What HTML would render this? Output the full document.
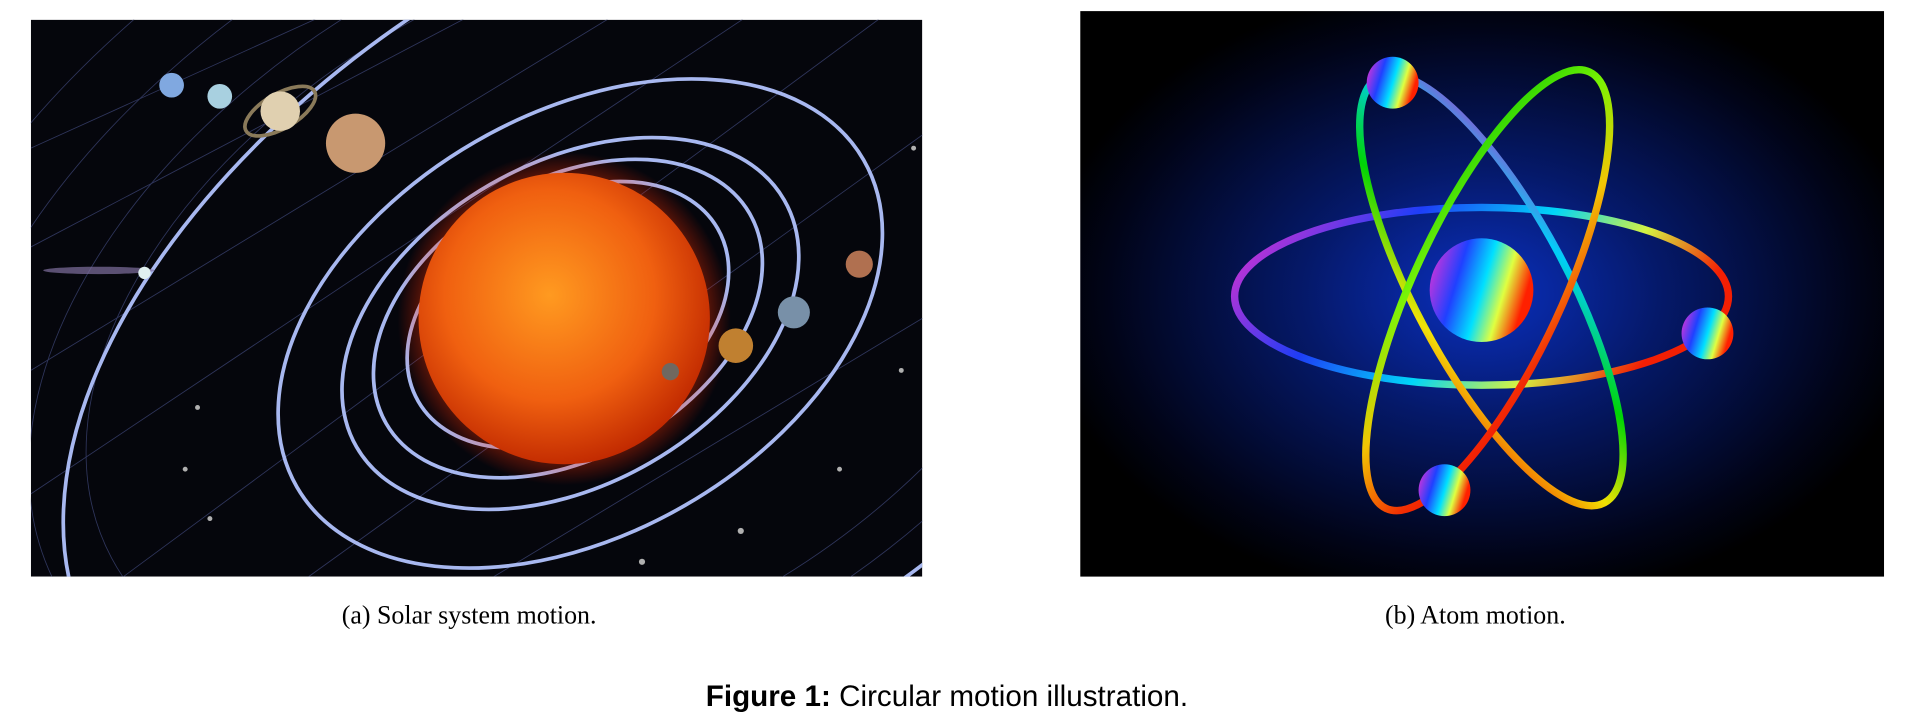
<!DOCTYPE html>
<html><head><meta charset="utf-8"><style>html,body{margin:0;padding:0;background:#fff;width:1926px;height:726px;overflow:hidden}svg{display:block}</style></head>
<body>
<svg width="1926" height="726" viewBox="0 0 1560 588" preserveAspectRatio="none">
<defs>
<radialGradient id="sun" cx="0.45" cy="0.42" r="0.6"><stop offset="0" stop-color="#ff9a20"/><stop offset="0.6" stop-color="#f06010"/><stop offset="1" stop-color="#c02800"/></radialGradient>
<radialGradient id="sunglow" r="0.5"><stop offset="0.75" stop-color="#ff4000" stop-opacity="0.6"/><stop offset="1" stop-color="#ff2000" stop-opacity="0"/></radialGradient>
<radialGradient id="abg" cx="0.5" cy="0.5" r="0.55"><stop offset="0" stop-color="#0a30c0"/><stop offset="0.4" stop-color="#05196a"/><stop offset="0.85" stop-color="#010418"/><stop offset="1" stop-color="#000"/></radialGradient>
<linearGradient id="rb" x1="0" y1="0" x2="1" y2="1"><stop offset="0" stop-color="#ff00c0"/><stop offset="0.25" stop-color="#00d8ff"/><stop offset="0.5" stop-color="#00e000"/><stop offset="0.75" stop-color="#ffee00"/><stop offset="1" stop-color="#ff1000"/></linearGradient>
<linearGradient id="rb2" x1="1" y1="0" x2="0" y2="1"><stop offset="0" stop-color="#00d000"/><stop offset="0.3" stop-color="#80ff00"/><stop offset="0.55" stop-color="#ffd000"/><stop offset="0.8" stop-color="#ff3000"/><stop offset="1" stop-color="#ff0000"/></linearGradient>
<linearGradient id="orb" x1="0" y1="0" x2="1" y2="0.3"><stop offset="0" stop-color="#ff30d0"/><stop offset="0.35" stop-color="#2040ff"/><stop offset="0.6" stop-color="#00e0ff"/><stop offset="0.8" stop-color="#e0ff40"/><stop offset="1" stop-color="#ff2000"/></linearGradient>
<clipPath id="c1"><rect x="25" y="16" width="722" height="451"/></clipPath>
</defs>
<g clip-path="url(#c1)">
<rect x="25" y="16" width="722" height="451" fill="#05060c"/>
<g stroke="#3a4270" stroke-width="0.7" fill="none" opacity="0.8">
<ellipse cx="470" cy="250" rx="560" ry="350" transform="rotate(-28 470 250)"/>
<ellipse cx="470" cy="250" rx="620" ry="400" transform="rotate(-28 470 250)"/>
<ellipse cx="470" cy="250" rx="700" ry="460" transform="rotate(-28 470 250)"/>
<ellipse cx="470" cy="250" rx="430" ry="270" transform="rotate(-28 470 250)"/>
<ellipse cx="470" cy="250" rx="480" ry="300" transform="rotate(-28 470 250)"/>
<path d="M25 120 L400 -50 M25 200 L500 -50 M25 300 L600 -50 M25 400 L700 -50 M100 467 L760 -20 M250 467 L760 100 M400 467 L760 250"/>
</g>
<g stroke="#a8b8f0" stroke-width="3" fill="none">
<ellipse cx="460" cy="255" rx="140" ry="95" transform="rotate(-30 460 255)"/>
<ellipse cx="460" cy="258" rx="170" ry="112" transform="rotate(-30 460 258)"/>
<ellipse cx="462" cy="262" rx="200" ry="130" transform="rotate(-30 462 262)"/>
<ellipse cx="470" cy="262" rx="265" ry="170" transform="rotate(-30 470 262)"/>
<ellipse cx="520" cy="250" rx="520" ry="300" transform="rotate(-32 520 250)"/>
</g>
<circle cx="457" cy="258" r="135" fill="url(#sunglow)"/>
<circle cx="457" cy="258" r="118" fill="url(#sun)"/>
<circle cx="288" cy="116" r="24" fill="#c89870"/>
<ellipse cx="227" cy="90" rx="32" ry="14" fill="none" stroke="#8a7a5a" stroke-width="3" transform="rotate(-30 227 90)"/>
<circle cx="227" cy="90" r="16" fill="#e0d0b0"/>
<circle cx="178" cy="78" r="10" fill="#a8d0e0"/>
<circle cx="139" cy="69" r="10" fill="#80a8e0"/>
<circle cx="696" cy="214" r="11" fill="#b07050"/>
<circle cx="643" cy="253" r="13" fill="#7890a8"/>
<circle cx="596" cy="280" r="14" fill="#c08030"/>
<circle cx="543" cy="301" r="7" fill="#706860"/>
<ellipse cx="80" cy="219" rx="45" ry="3" fill="#8070a0" opacity="0.7"/>
<circle cx="117" cy="221" r="5" fill="#e0f0f0"/>
<g fill="#b0b0b0"><circle cx="160" cy="330" r="2"/><circle cx="150" cy="380" r="2"/><circle cx="170" cy="420" r="2"/><circle cx="520" cy="455" r="2.5"/><circle cx="600" cy="430" r="2.5"/><circle cx="680" cy="380" r="2"/><circle cx="730" cy="300" r="2"/><circle cx="740" cy="120" r="2"/></g>
</g>
<g>
<rect x="875" y="9" width="651" height="458" fill="url(#abg)"/>
<g fill="none" stroke-width="6" opacity="0.95">
<ellipse cx="1200" cy="240" rx="200" ry="72" stroke="url(#orb)"/>
<ellipse cx="1208" cy="235" rx="195" ry="62" stroke="url(#rb)" transform="rotate(62 1208 235)"/>
<ellipse cx="1205" cy="235" rx="195" ry="60" stroke="url(#rb2)" transform="rotate(-65 1205 235)"/>
</g>
<circle cx="1200" cy="235" r="42" fill="url(#orb)"/>
<circle cx="1128" cy="67" r="21" fill="url(#orb)"/>
<circle cx="1383" cy="270" r="21" fill="url(#orb)"/>
<circle cx="1170" cy="397" r="21" fill="url(#orb)"/>
</g>
<text x="380" y="505" text-anchor="middle" font-family="Liberation Serif, serif" font-size="21" fill="#000">(a)  Solar system motion.</text>
<text x="1195" y="505" text-anchor="middle" font-family="Liberation Serif, serif" font-size="21" fill="#000">(b)  Atom motion.</text>
<text x="767" y="572" text-anchor="middle" font-family="Liberation Sans, sans-serif" font-size="24" fill="#000"><tspan font-weight="bold">Figure 1:</tspan> Circular motion illustration.</text>
</svg>
</body></html>
